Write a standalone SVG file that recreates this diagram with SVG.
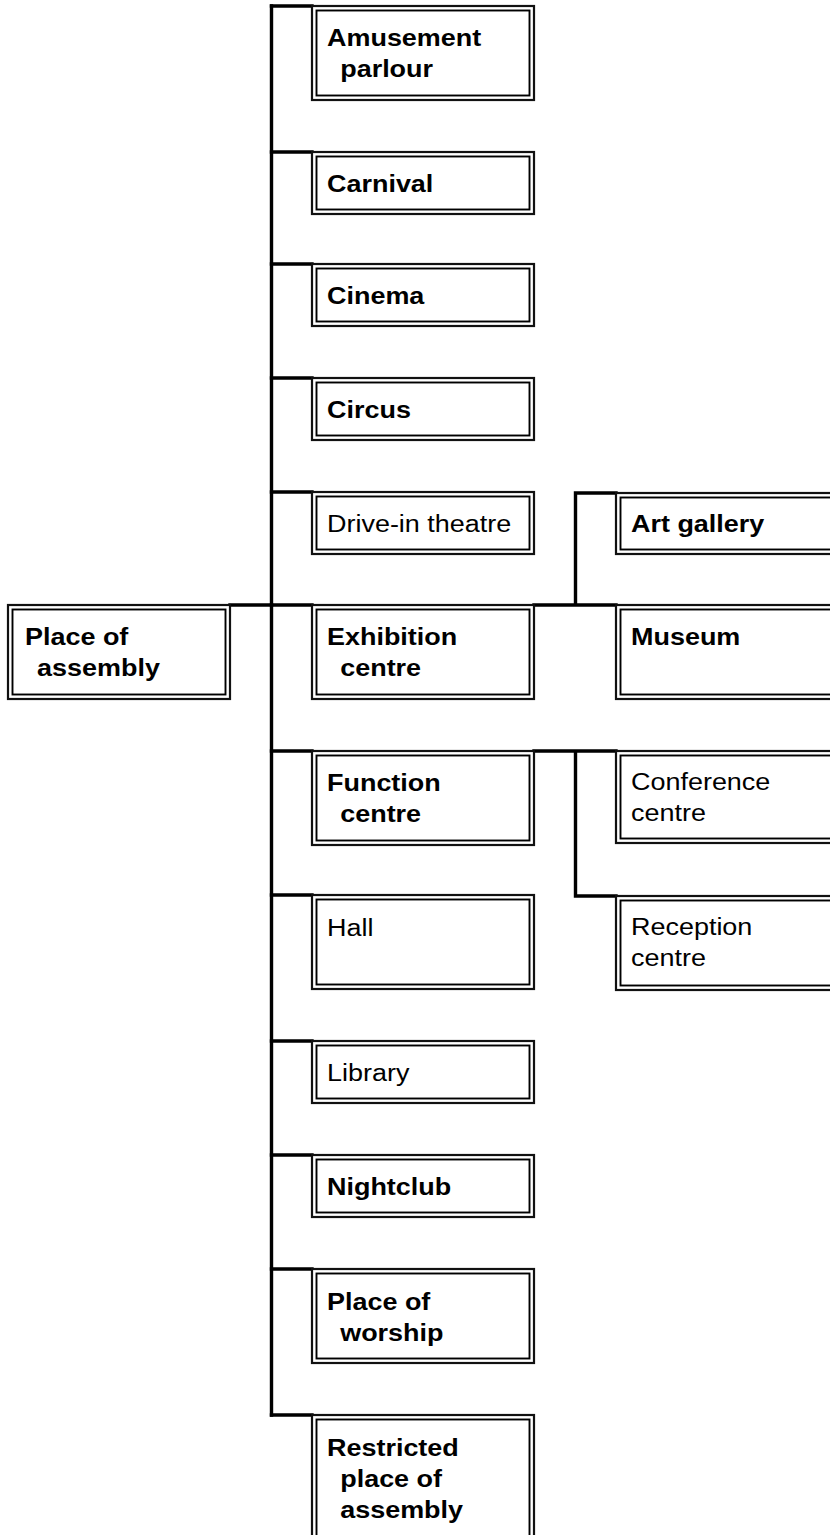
<svg xmlns="http://www.w3.org/2000/svg" width="830" height="1535" viewBox="0 0 830 1535">
<style>
.bo{fill:#fff;stroke:#111;stroke-width:2.2}
.bi{fill:none;stroke:#000;stroke-width:1.9}
.t{font-family:"Liberation Sans",Arial,sans-serif;font-size:24.5px;fill:#000}
.b{font-weight:bold}
.c{fill:none;stroke:#000;stroke-width:3.4;stroke-linecap:square;stroke-linejoin:miter}
</style>
<rect width="830" height="1535" fill="#fff"/>
<g id="connectors">
<path class="c" d="M271.5 6 V1415"/>
<path class="c" d="M271.5 6 H312 M271.5 152 H312 M271.5 264 H312 M271.5 378 H312 M271.5 492 H312 M271.5 605 H312 M271.5 751 H312 M271.5 895 H312 M271.5 1041 H312 M271.5 1155 H312 M271.5 1269 H312 M271.5 1415 H312"/>
<path class="c" d="M230 605 H271.5"/>
<path class="c" d="M534 605 H616 M575.5 605 V493 H616"/>
<path class="c" d="M534 751 H616 M575.5 751 V896 H616"/>
</g>
<g id="n-place-of-assembly"><rect class="bo" x="8" y="605" width="222" height="94"/><rect class="bi" x="12.5" y="609.5" width="213" height="85"/>
<text class="t b" transform="translate(25,645) scale(1.1,1)"><tspan x="0" y="0">Place of</tspan><tspan x="11" y="31">assembly</tspan></text></g>
<g id="n-amusement"><rect class="bo" x="312" y="6" width="222" height="94"/><rect class="bi" x="316.5" y="10.5" width="213" height="85"/>
<text class="t b" transform="translate(327,46) scale(1.1,1)"><tspan x="0" y="0">Amusement</tspan><tspan x="12" y="31">parlour</tspan></text></g>
<g id="n-carnival"><rect class="bo" x="312" y="152" width="222" height="62"/><rect class="bi" x="316.5" y="156.5" width="213" height="53"/>
<text class="t b" transform="translate(327,192) scale(1.1,1)">Carnival</text></g>
<g id="n-cinema"><rect class="bo" x="312" y="264" width="222" height="62"/><rect class="bi" x="316.5" y="268.5" width="213" height="53"/>
<text class="t b" transform="translate(327,304) scale(1.1,1)">Cinema</text></g>
<g id="n-circus"><rect class="bo" x="312" y="378" width="222" height="62"/><rect class="bi" x="316.5" y="382.5" width="213" height="53"/>
<text class="t b" transform="translate(327,418) scale(1.1,1)">Circus</text></g>
<g id="n-drive-in"><rect class="bo" x="312" y="492" width="222" height="62"/><rect class="bi" x="316.5" y="496.5" width="213" height="53"/>
<text class="t" transform="translate(327,532) scale(1.1,1)">Drive-in theatre</text></g>
<g id="n-exhibition"><rect class="bo" x="312" y="605" width="222" height="94"/><rect class="bi" x="316.5" y="609.5" width="213" height="85"/>
<text class="t b" transform="translate(327,645) scale(1.1,1)"><tspan x="0" y="0">Exhibition</tspan><tspan x="12" y="31">centre</tspan></text></g>
<g id="n-function"><rect class="bo" x="312" y="751" width="222" height="94"/><rect class="bi" x="316.5" y="755.5" width="213" height="85"/>
<text class="t b" transform="translate(327,791) scale(1.1,1)"><tspan x="0" y="0">Function</tspan><tspan x="12" y="31">centre</tspan></text></g>
<g id="n-hall"><rect class="bo" x="312" y="895" width="222" height="94"/><rect class="bi" x="316.5" y="899.5" width="213" height="85"/>
<text class="t" transform="translate(327,936) scale(1.1,1)">Hall</text></g>
<g id="n-library"><rect class="bo" x="312" y="1041" width="222" height="62"/><rect class="bi" x="316.5" y="1045.5" width="213" height="53"/>
<text class="t" transform="translate(327,1081) scale(1.1,1)">Library</text></g>
<g id="n-nightclub"><rect class="bo" x="312" y="1155" width="222" height="62"/><rect class="bi" x="316.5" y="1159.5" width="213" height="53"/>
<text class="t b" transform="translate(327,1195) scale(1.1,1)">Nightclub</text></g>
<g id="n-worship"><rect class="bo" x="312" y="1269" width="222" height="94"/><rect class="bi" x="316.5" y="1273.5" width="213" height="85"/>
<text class="t b" transform="translate(327,1310) scale(1.1,1)"><tspan x="0" y="0">Place of</tspan><tspan x="12" y="31">worship</tspan></text></g>
<g id="n-restricted"><rect class="bo" x="312" y="1415" width="222" height="130"/><rect class="bi" x="316.5" y="1419.5" width="213" height="121"/>
<text class="t b" transform="translate(327,1456) scale(1.1,1)"><tspan x="0" y="0">Restricted</tspan><tspan x="12" y="31">place of</tspan><tspan x="12" y="62">assembly</tspan></text></g>
<g id="n-art-gallery"><rect class="bo" x="616" y="493" width="230" height="61"/><rect class="bi" x="620.5" y="497.5" width="221" height="52"/>
<text class="t b" transform="translate(631,532) scale(1.1,1)">Art gallery</text></g>
<g id="n-museum"><rect class="bo" x="616" y="605" width="230" height="94"/><rect class="bi" x="620.5" y="609.5" width="221" height="85"/>
<text class="t b" transform="translate(631,645) scale(1.1,1)">Museum</text></g>
<g id="n-conference"><rect class="bo" x="616" y="751" width="230" height="92"/><rect class="bi" x="620.5" y="755.5" width="221" height="83"/>
<text class="t" transform="translate(631,790) scale(1.1,1)"><tspan x="0" y="0">Conference</tspan><tspan x="0" y="31">centre</tspan></text></g>
<g id="n-reception"><rect class="bo" x="616" y="896" width="230" height="94"/><rect class="bi" x="620.5" y="900.5" width="221" height="85"/>
<text class="t" transform="translate(631,935) scale(1.1,1)"><tspan x="0" y="0">Reception</tspan><tspan x="0" y="31">centre</tspan></text></g>
</svg>
